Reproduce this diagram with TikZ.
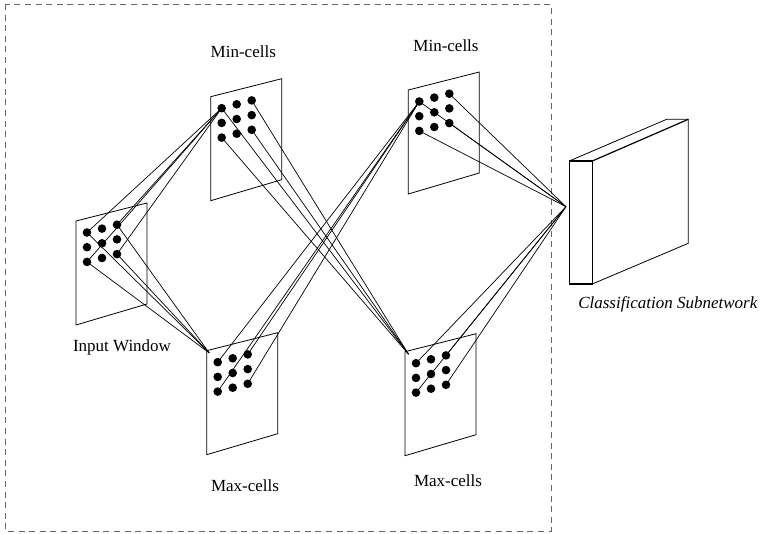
\documentclass[tikz,border=0pt]{standalone}
\usepackage{fontspec}
\setmainfont{Liberation Serif}
\usetikzlibrary{calc}
\begin{document}
\begin{tikzpicture}[x=1pt,y=-1pt,
  dotcell/.style={circle, fill=black, inner sep=0pt, minimum size=8.6pt},
  sheet/.style={draw, line width=0.8pt},
  link/.style={line width=0.7pt},
  lbl/.style={font=\fontsize{17}{20}\selectfont, anchor=base, inner sep=0pt},
  frame/.style={draw=black!60, line width=0.9pt, dash pattern=on 6pt off 4.6pt}]
\useasboundingbox (0,0) rectangle (761,534);

% one layer of cells: a slanted sheet with a 3x3 grid of units
\newcommand\cellsheet[3]{%
  \coordinate (#1-tl) at (#2,#3);
  \draw[sheet] (#2,#3) -- ++(71,-18) -- ++(0,101) -- ++(-71,21) -- cycle;
  \foreach \r in {1,2,3}{\foreach \c in {1,2,3}{%
    \node[dotcell] (#1-\r\c) at ({#2+11+15*(\c-1)},{#3+11.5+14.7*(\r-1)-3.9*(\c-1)}) {};}}%
}

\draw[frame] (5,4) rectangle (551,531);

\cellsheet{in}{76}{221}
\cellsheet{mna}{210.7}{96.7}
\cellsheet{mnb}{408.3}{90}
\cellsheet{mxa}{206.7}{350.7}
\cellsheet{mxb}{405}{351.7}

\coordinate (mxa-in) at ($(mxa-tl)+(2.5,2.2)$);
\coordinate (mxb-in) at ($(mxb-tl)+(3.5,2.5)$);
\coordinate (cls) at (566,206.7);

% connections from the corner units of each layer
\foreach \s in {11,13,31,33}{
  \draw[link] (in-\s.center) -- (mna-11.center);
  \draw[link] (in-\s.center) -- (mxa-in);
  \draw[link] (mna-\s.center) -- (mxb-in);
  \draw[link] (mxa-\s.center) -- (mnb-11.center);
  \draw[link] (mnb-\s.center) -- (cls);
  \draw[link] (mxb-\s.center) -- (cls);
}

% classification block
\draw[line width=0.8pt] (569.3,161) -- (666.7,119.3) -- (688.3,119.3);
\draw[line width=1.2pt] (592.3,161) -- (688.3,119.3);
\draw[line width=0.8pt] (688.3,119.3) -- (688.3,243.3) -- (592.3,284);
\draw[line width=1.3pt] (569.3,161) rectangle (592.3,284);

\node[lbl] (t-mna) at (243.3,57.3) {Min-cells};
\node[lbl] (t-mnb) at (446,52) {Min-cells};
\node[lbl] (t-in) at (122,351.7) {Input Window};
\node[lbl] (t-mxa) at (245,492) {Max-cells};
\node[lbl] (t-mxb) at (448,486.7) {Max-cells};
\node[lbl, font=\fontsize{17}{20}\selectfont\itshape] (t-cls) at (667.8,308.3) {Classification Subnetwork};
\end{tikzpicture}
\end{document}
